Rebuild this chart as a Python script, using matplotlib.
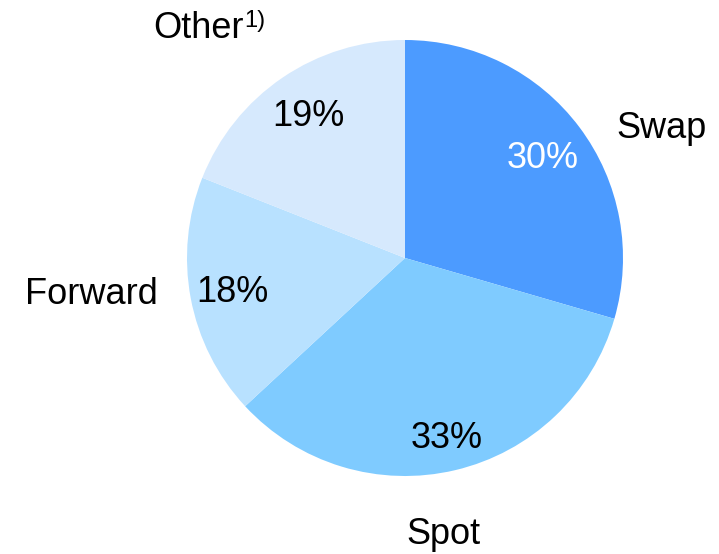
import matplotlib
matplotlib.use("Agg")
import matplotlib.pyplot as plt
import numpy as np

plt.rcParams['font.family'] = ['Liberation Sans', 'DejaVu Sans']

categories = ["Swap", "Spot", "Forward", "Other"]
values = [29.5, 33.6, 17.9, 19.0]
pct_labels = ["30%", "33%", "18%", "19%"]
colors = ["#4C9BFF", "#7FCBFF", "#B8E1FF", "#D6E9FD"]
pct_colors = ["white", "black", "black", "black"]

W, H = 719, 554
fig = plt.figure(figsize=(W / 100, H / 100), dpi=100)
cx, cy, r = 405, 258, 218
ax = fig.add_axes([(cx - r) / W, (H - cy - r) / H, 2 * r / W, 2 * r / H])

wedges, texts = ax.pie(values, colors=colors, startangle=90, counterclock=False,
                       radius=1, wedgeprops=dict(linewidth=0))
ax.set_xlim(-1, 1)
ax.set_ylim(-1, 1)
ax.set_aspect('equal')
ax.axis('off')

fs = 26

def px(x, y):
    return ((x - cx) / r, (cy - y) / r)

pct_pos = [(543, 158), (447, 438), (232, 293), (308, 116)]
for lab, col, (x, y) in zip(pct_labels, pct_colors, pct_pos):
    ax.text(*px(x, y), lab, color=col, fontsize=fs, ha='center', va='center')

ax.text(*px(662, 128), "Swap", fontsize=fs, ha='center', va='center')
ax.text(*px(443, 535), "Spot", fontsize=fs, ha='center', va='center')
ax.text(*px(158, 295), "Forward", fontsize=fs, ha='right', va='center')
ax.text(*px(244, 28), "Other", fontsize=fs, ha='right', va='center')
ax.text(*px(244, 21), "1)", fontsize=17, ha='left', va='center')

fig.savefig("out.png", dpi=100)
